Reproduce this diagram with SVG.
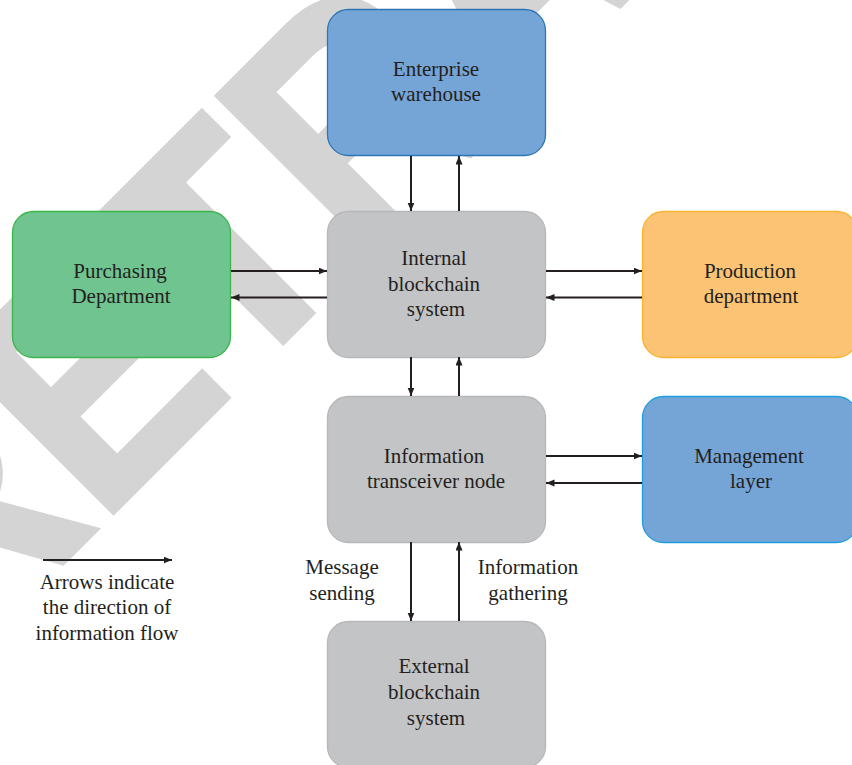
<svg xmlns="http://www.w3.org/2000/svg" width="852" height="765" viewBox="0 0 852 765">
<defs>
<marker id="ah" markerUnits="userSpaceOnUse" markerWidth="9" markerHeight="8" refX="8.5" refY="3.5" orient="auto">
<path d="M0,0 L8.5,3.5 L0,7 Z" fill="#231f20"/>
</marker>
<style>
.box{stroke-width:1.3}
.gray{fill:#c3c4c6;stroke:#b6b7ba}
.blue{fill:#75a5d6;stroke:#2e75b6}
.blue2{fill:#75a5d6;stroke:#1e9ee0}
.green{fill:#6fc48f;stroke:#3cb44a}
.orange{fill:#fcc374;stroke:#fbb22e}
text{font-family:"Liberation Serif","Times New Roman",serif;font-size:21px;fill:#231f20;text-anchor:middle}
.wm{font-family:"Liberation Sans",Arial,sans-serif;font-weight:bold;font-size:320px;fill:#d4d4d4;stroke:#d4d4d4;stroke-width:6;text-anchor:start}
.c line{stroke:#231f20;stroke-width:2;marker-end:url(#ah)}
</style>
</defs>
<rect width="852" height="765" fill="#ffffff"/>
<text class="wm" transform="translate(-47.4,672.5) rotate(-45) scale(0.9,1)">RETRACTED</text>

<g id="enterprise-warehouse">
<rect class="box blue" x="327.5" y="9.5" width="218" height="146" rx="21"/>
<text x="436" y="76">Enterprise</text>
<text x="436" y="101">warehouse</text>
</g>
<g id="purchasing-department">
<rect class="box green" x="12.5" y="211.5" width="218" height="146" rx="21"/>
<text x="120" y="278">Purchasing</text>
<text x="121" y="303">Department</text>
</g>
<g id="internal-blockchain">
<rect class="box gray" x="327.5" y="211.5" width="218" height="146" rx="21"/>
<text x="434" y="265">Internal</text>
<text x="434" y="291">blockchain</text>
<text x="436" y="316">system</text>
</g>
<g id="production-department">
<rect class="box orange" x="642.5" y="211.5" width="215" height="146" rx="21"/>
<text x="750" y="278">Production</text>
<text x="751" y="303">department</text>
</g>
<g id="information-transceiver">
<rect class="box gray" x="327.5" y="396.5" width="218" height="146" rx="21"/>
<text x="434" y="463">Information</text>
<text x="436" y="488">transceiver node</text>
</g>
<g id="management-layer">
<rect class="box blue2" x="642.5" y="396.5" width="215" height="146" rx="21"/>
<text x="749" y="463">Management</text>
<text x="751" y="488">layer</text>
</g>
<g id="external-blockchain">
<rect class="box gray" x="327.5" y="621.5" width="218" height="146" rx="21"/>
<text x="434" y="673">External</text>
<text x="434" y="699">blockchain</text>
<text x="436" y="725">system</text>
</g>

<g id="connectors" class="c">
<line x1="411" y1="156" x2="411" y2="211"/>
<line x1="459" y1="211" x2="459" y2="156"/>
<line x1="231" y1="271" x2="327" y2="271"/>
<line x1="327" y1="297.5" x2="231" y2="297.5"/>
<line x1="546" y1="271" x2="642" y2="271"/>
<line x1="642" y1="297.5" x2="546" y2="297.5"/>
<line x1="411" y1="357" x2="411" y2="396"/>
<line x1="459" y1="396" x2="459" y2="357"/>
<line x1="546" y1="456" x2="642" y2="456"/>
<line x1="642" y1="483" x2="546" y2="483"/>
<line x1="411" y1="542" x2="411" y2="621"/>
<line x1="459" y1="621" x2="459" y2="542"/>
<line x1="43" y1="560" x2="172" y2="560"/>
</g>

<g id="labels">
<text x="342" y="574">Message</text>
<text x="342" y="600">sending</text>
<text x="528" y="574">Information</text>
<text x="528" y="600">gathering</text>
</g>
<g id="legend">
<text x="107" y="589">Arrows indicate</text>
<text x="107" y="614">the direction of</text>
<text x="107" y="640">information flow</text>
</g>
</svg>
